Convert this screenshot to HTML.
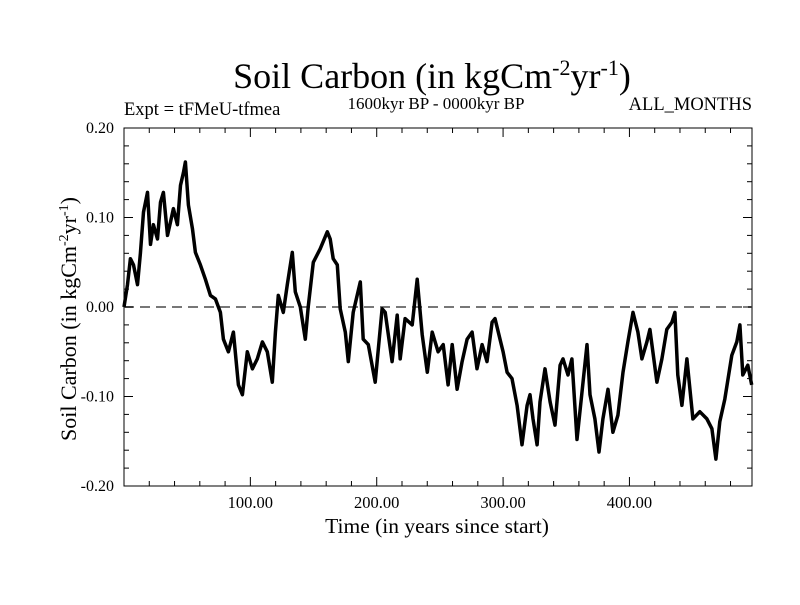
<!DOCTYPE html>
<html><head><meta charset="utf-8"><style>
body{margin:0;background:#fff}
svg text{font-family:"Liberation Serif",serif;fill:#000}
</style></head><body>
<svg id="chart" width="800" height="600" xmlns="http://www.w3.org/2000/svg">
<text x="432" y="88" font-size="36" text-anchor="middle">Soil Carbon (in kgCm<tspan dy="-13" font-size="22">-2</tspan><tspan dy="13">yr</tspan><tspan dy="-13" font-size="22">-1</tspan><tspan dy="13">)</tspan></text>
<text x="124" y="115" font-size="18.5">Expt = tFMeU-tfmea</text>
<text x="436" y="109" font-size="17" text-anchor="middle">1600kyr BP - 0000kyr BP</text>
<text x="752" y="110" font-size="18.5" text-anchor="end">ALL_MONTHS</text>
<text x="437" y="533" font-size="21.5" text-anchor="middle">Time (in years since start)</text>
<text transform="translate(76,319) rotate(-90)" font-size="22" text-anchor="middle">Soil Carbon (in kgCm<tspan dy="-8" font-size="14">-2</tspan><tspan dy="8">yr</tspan><tspan dy="-8" font-size="14">-1</tspan><tspan dy="8">)</tspan></text>
<g id="axes"></g>
<g id="series"></g>
</svg>
<script>
const times=[0,2.8,5.1,7.5,10.7,13,15.4,18.6,21,23.3,26.5,28.9,31.2,34.4,36.8,39.1,42.3,44.7,47,48.6,51,54.2,56.5,60.5,64.4,68.4,72.3,76.3,78.7,82.6,86.6,90.5,93.7,97.6,101.6,105.5,109.5,113.4,117.4,119.8,122.1,126.1,129.2,133.2,135.6,139.5,143.5,145.8,149.8,155.3,160.9,163.2,165.6,168.8,171.1,175.1,177.5,181.4,187,189.3,193.3,198.8,204.3,206.7,212.2,216.2,218.6,222.5,228.1,232,236,240,243.9,248.6,252.6,256.5,259.7,263.6,267.6,271.5,275.5,279.4,283.4,287.3,291.3,293.6,297.6,300,303.2,307.1,311.1,315,319,321.3,323.7,326.9,329.2,333.2,337.2,341.1,345.1,347.4,351.4,354.5,358.5,362.5,366.4,368.8,372.7,375.9,379,383,386.9,390.9,394.9,398.8,402.8,406.7,409.9,413.8,416.2,421.7,425.7,429.6,433.6,436,438.3,441.5,445.5,450.2,455.7,461.3,465.3,468.4,471.5,475.5,481,485,487.4,489.7,493.7,496.8];
const values=[0,0.025,0.054,0.047,0.025,0.06,0.106,0.128,0.07,0.092,0.076,0.117,0.128,0.08,0.095,0.11,0.092,0.136,0.15,0.162,0.114,0.087,0.061,0.047,0.031,0.013,0.009,-0.006,-0.036,-0.05,-0.028,-0.087,-0.098,-0.05,-0.069,-0.058,-0.039,-0.05,-0.084,-0.028,0.013,-0.006,0.025,0.061,0.017,0,-0.036,0,0.05,0.065,0.084,0.076,0.054,0.047,-0.002,-0.028,-0.061,-0.006,0.028,-0.036,-0.042,-0.084,-0.002,-0.006,-0.061,-0.009,-0.058,-0.013,-0.02,0.031,-0.031,-0.073,-0.028,-0.05,-0.042,-0.087,-0.042,-0.092,-0.061,-0.036,-0.028,-0.069,-0.042,-0.061,-0.017,-0.013,-0.036,-0.05,-0.073,-0.08,-0.11,-0.154,-0.11,-0.098,-0.125,-0.154,-0.106,-0.069,-0.106,-0.132,-0.065,-0.058,-0.076,-0.058,-0.148,-0.095,-0.042,-0.098,-0.125,-0.162,-0.125,-0.092,-0.14,-0.121,-0.073,-0.039,-0.006,-0.028,-0.058,-0.039,-0.025,-0.084,-0.058,-0.025,-0.017,-0.006,-0.076,-0.11,-0.058,-0.125,-0.117,-0.125,-0.136,-0.17,-0.128,-0.103,-0.054,-0.039,-0.02,-0.076,-0.065,-0.087];
const yTicks=[0.20,0.10,0.00,-0.10,-0.20];
const yTickLabels=["0.20","0.10","0.00","-0.10","-0.20"];
const xTicks=[100,200,300,400];
const xTickLabels=["100.00","200.00","300.00","400.00"];
const X0=124,X1=752,Y0=128,Y1=486,TMAX=497;
const xs=t=>X0+(t/TMAX)*(X1-X0);
const ys=v=>Y0+(0.2-v)/0.4*(Y1-Y0);
const NS="http://www.w3.org/2000/svg";
const axes=document.getElementById('axes'),ser=document.getElementById('series');
function mk(tag,at,parent){const e=document.createElementNS(NS,tag);for(const k in at)e.setAttribute(k,at[k]);parent.appendChild(e);return e;}
const frame=mk('rect',{x:X0,y:Y0,width:X1-X0,height:Y1-Y0,fill:'none',stroke:'#000','stroke-width':1},axes);


const zl=mk('line',{x1:X0,x2:X1,y1:ys(0),y2:ys(0),stroke:'#777','stroke-width':2,'stroke-dasharray':'10,6'},axes);


for(let v=-0.2;v<=0.2001;v+=0.02){const y=ys(v);const major=Math.abs(Math.round(v*100)%10)===0;const L=major?9:5;
 const a=mk('line',{x1:X0,x2:X0+L,y1:y,y2:y,stroke:'#000'},axes);
 const b=mk('line',{x1:X1,x2:X1-L,y1:y,y2:y,stroke:'#000'},axes);}
yTicks.forEach((v,i)=>{const t=mk('text',{x:X0-10,y:ys(v)+5,'font-size':16,'text-anchor':'end'},axes);t.textContent=yTickLabels[i];
 
 });
for(let tt=20;tt<TMAX;tt+=20){const x=xs(tt);const L=(tt%100===0)?9:5;
 const a=mk('line',{x1:x,x2:x,y1:Y1,y2:Y1-L,stroke:'#000'},axes);
 const b=mk('line',{x1:x,x2:x,y1:Y0,y2:Y0+L,stroke:'#000'},axes);}
xTicks.forEach((v,i)=>{const t=mk('text',{x:xs(v),y:Y1+22,'font-size':16.5,'text-anchor':'middle'},axes);t.textContent=xTickLabels[i];
 
 });
const d=times.map((t,i)=>(i?'L':'M')+xs(t).toFixed(1)+','+ys(values[i]).toFixed(1)).join('');
const p=mk('path',{d:d,fill:'none',stroke:'#000','stroke-width':3.5,'stroke-linejoin':'round'},ser);


</script>
</body></html>
